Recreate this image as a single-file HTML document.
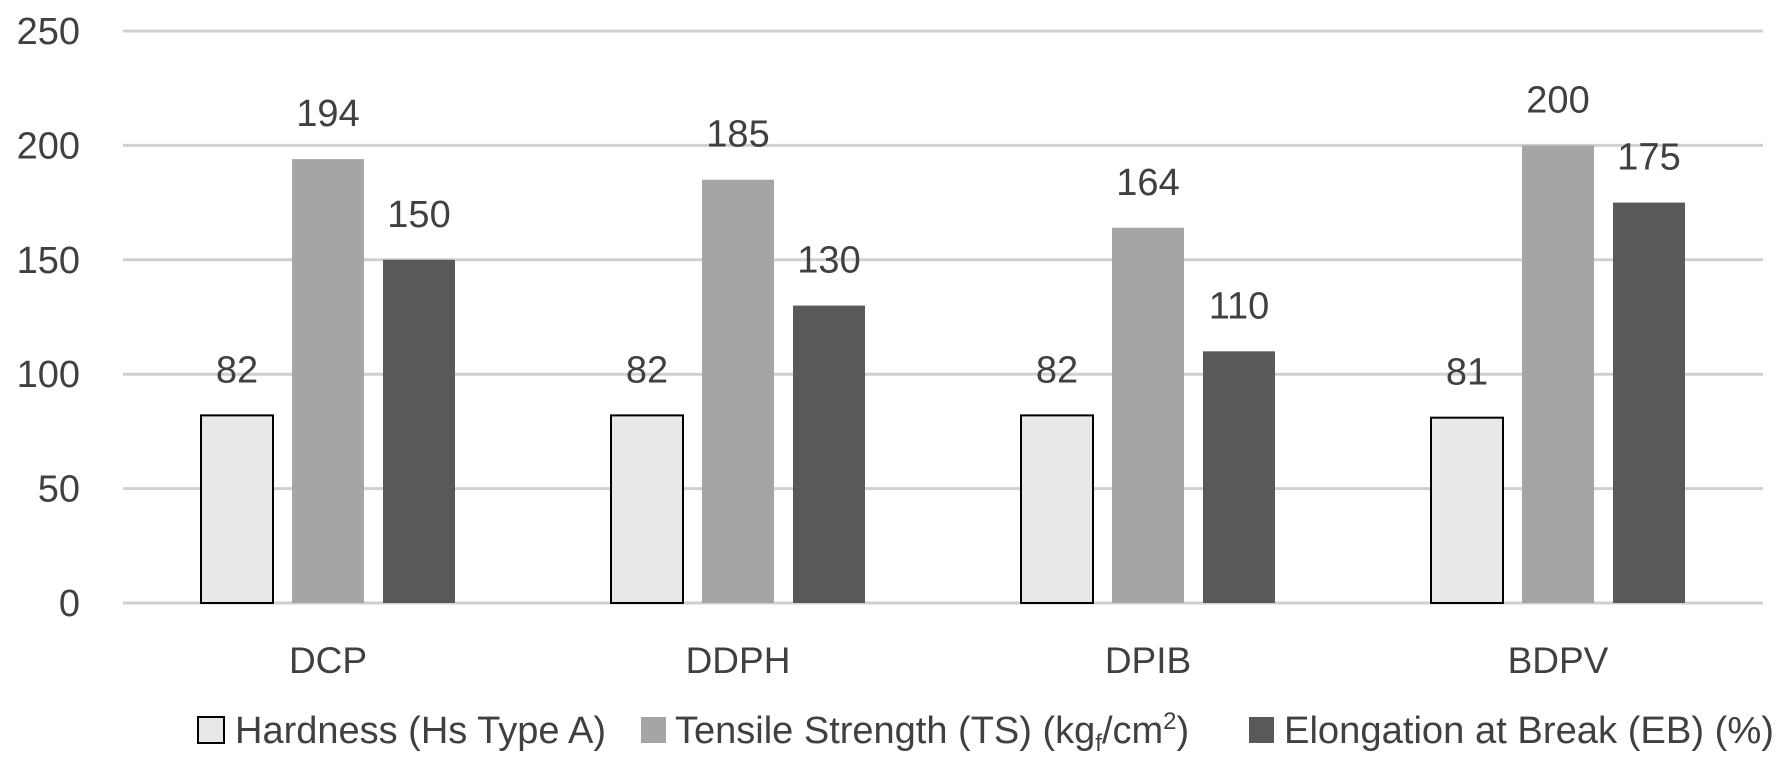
<!DOCTYPE html>
<html><head><meta charset="utf-8"><style>
html,body{margin:0;padding:0;background:#fff;}
svg{display:block;font-family:"Liberation Sans",sans-serif;}
</style></head><body>
<svg id="chart" width="1789" height="764" viewBox="0 0 1789 764" xmlns="http://www.w3.org/2000/svg">
<g id="grid"></g>
<g id="yticks"></g>
<g id="bars"></g>
<g id="vlabels"></g>
<g id="xlabels"></g>
<g id="legend">
  <g>
    <rect x="198" y="717" width="26" height="26" fill="#e8e8e8" stroke="#000" stroke-width="2"/>
    <text x="235" y="743" font-size="38" fill="#404040" textLength="371" lengthAdjust="spacingAndGlyphs">Hardness (Hs Type A)</text>
  </g>
  <g>
    <rect x="641" y="717" width="25" height="26" fill="#a5a5a5"/>
    <text x="675" y="743" font-size="38" fill="#404040">Tensile Strength (TS) (kg<tspan font-size="24" dy="8">f</tspan><tspan dy="-8">/cm</tspan><tspan font-size="24" dy="-14">2</tspan><tspan dy="14">)</tspan></text>
  </g>
  <g>
    <rect x="1249" y="717" width="25" height="26" fill="#595959"/>
    <text x="1284" y="743" font-size="38" fill="#404040" textLength="490" lengthAdjust="spacingAndGlyphs">Elongation at Break (EB) (%)</text>
  </g>
</g>
</svg>
<script>
const categories = ["DCP", "DDPH", "DPIB", "BDPV"];
const hardness = [82, 82, 82, 81];
const tensile = [194, 185, 164, 200];
const elongation = [150, 130, 110, 175];
const yTicks = [0, 50, 100, 150, 200, 250];

const NS = "http://www.w3.org/2000/svg";
const plotL = 123, plotR = 1763, y0 = 603, yTop = 31, yMax = 250;
const yScale = v => y0 - (v / yMax) * (y0 - yTop);
const groupW = (plotR - plotL) / categories.length;
const xCenter = i => plotL + groupW * (i + 0.5);
const barW = 72, step = 91;
function mk(tag, attrs, parent){ const e = document.createElementNS(NS, tag); for (const k in attrs) e.setAttribute(k, attrs[k]); parent.appendChild(e); return e; }

const grid = document.getElementById('grid');
const yt = document.getElementById('yticks');
yTicks.forEach(t => {
  const l = mk('line', {x1: plotL, x2: plotR, y1: yScale(t), y2: yScale(t), stroke: '#d0d0d0', 'stroke-width': 3}, grid);
  
  
  const tx = mk('text', {x: 80, y: yScale(t) + 13, 'text-anchor': 'end', 'font-size': 38, fill: '#404040'}, yt);
  tx.textContent = t;
  
  
});

const series = [
  {vals: hardness, fill: '#e8e8e8', stroke: true, name: 'hardness'},
  {vals: tensile, fill: '#a5a5a5', stroke: false, name: 'tensile'},
  {vals: elongation, fill: '#595959', stroke: false, name: 'elongation'}
];
const bars = document.getElementById('bars');
const vl = document.getElementById('vlabels');
const xl = document.getElementById('xlabels');
categories.forEach((c, i) => {
  series.forEach((s, j) => {
    const cx = xCenter(i) + (j - 1) * step;
    const v = s.vals[i];
    const top = yScale(v);
    const attrs = {x: cx - barW / 2, y: top, width: barW, height: y0 - top, fill: s.fill};
    if (s.stroke) { attrs.stroke = '#000'; attrs['stroke-width'] = 2; }
    const r = mk('rect', attrs, bars);
    
    
    const t = mk('text', {x: cx, y: top - 33, 'text-anchor': 'middle', 'font-size': 38, fill: '#404040'}, vl);
    t.textContent = v;
    
    
  });
  const t = mk('text', {x: xCenter(i), y: 673, 'text-anchor': 'middle', 'font-size': 37, fill: '#404040'}, xl);
  t.textContent = c;
  
  
});
</script>
</body></html>
